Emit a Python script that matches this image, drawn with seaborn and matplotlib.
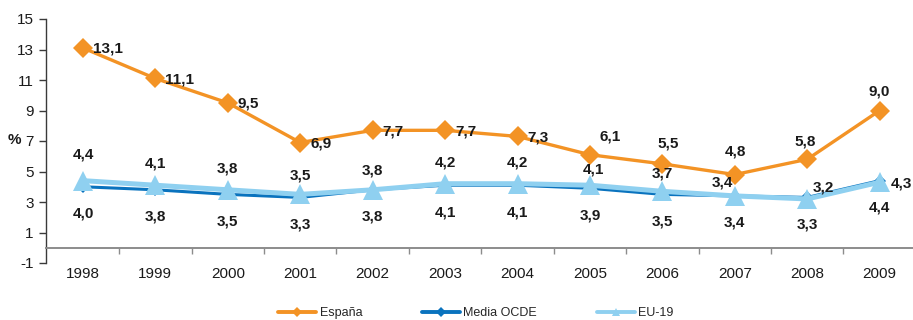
import matplotlib
matplotlib.use("Agg")
import matplotlib.pyplot as plt
import seaborn as sns
from matplotlib.lines import Line2D

# ---- data -------------------------------------------------------------
years = [1998, 1999, 2000, 2001, 2002, 2003, 2004, 2005, 2006, 2007, 2008, 2009]
espana = [13.1, 11.1, 9.5, 6.9, 7.7, 7.7, 7.3, 6.1, 5.5, 4.8, 5.8, 9.0]
media_ocde = [4.0, 3.8, 3.5, 3.3, 3.8, 4.1, 4.1, 3.9, 3.5, 3.4, 3.3, 4.4]
eu19 = [4.4, 4.1, 3.8, 3.5, 3.8, 4.2, 4.2, 4.1, 3.7, 3.4, 3.2, 4.3]
series_names = ["España", "Media OCDE", "EU-19"]
y_ticks = [-1, 1, 3, 5, 7, 9, 11, 13, 15]

# ---- label placement (pixel offsets from each point, horizontal align) ----
esp_offsets = [(10, 1, "left")] * 7 + [(20, -18, "center"), (6, -20, "center"),
                                       (1, -23, "center"), (-2, -18, "center"),
                                       (0, -19, "center")]
eu_offsets = [(0, -26, "center"), (0, -22, "center"), (0, -21, "center"),
              (0, -19, "center"), (0, -19, "center"), (0, -21, "center"),
              (0, -21, "center"), (3, -16, "center"), (0, -18, "center"),
              (-12, -13, "center"), (16, -11, "center"), (11, 1, "left")]
ocde_offsets = [(0, 27, "center")] * 12

ORANGE = "#F39325"
DARK_BLUE = "#0A73BE"
LIGHT_BLUE = "#8FD0F0"
TEXT = "#1a1a1a"

sns.set_theme(style="white")
plt.rcParams["font.family"] = ["Liberation Sans", "DejaVu Sans"]

fig = plt.figure(figsize=(9.13, 3.2), dpi=100)
ax = fig.add_axes([46 / 913, 57 / 320, 1 - 46 / 913, (263 - 19) / 320])

sns.lineplot(x=years, y=media_ocde, ax=ax, color=DARK_BLUE, linewidth=2.2,
             marker="D", markersize=6, markeredgewidth=0, zorder=3)
sns.lineplot(x=years, y=eu19, ax=ax, color=LIGHT_BLUE, linewidth=3.6,
             marker="^", markersize=14, markeredgewidth=0, zorder=4)
sns.lineplot(x=years, y=espana, ax=ax, color=ORANGE, linewidth=2.4,
             marker="D", markersize=10.5, markeredgewidth=0, zorder=5)


def fmt(v):
    return f"{v:.1f}".replace(".", ",")


for vals, offs in ((espana, esp_offsets), (eu19, eu_offsets), (media_ocde, ocde_offsets)):
    for x, v, (dx, dy, ha) in zip(years, vals, offs):
        ax.annotate(fmt(v), (x, v), xytext=(dx, -dy), textcoords="offset pixels",
                    ha=ha, va="center", fontsize=11, fontweight="bold",
                    color=TEXT, zorder=6)

# ---- axes --------------------------------------------------------------
ax.set_xlim(years[0] - 0.51, years[-1] + 0.46)
ax.set_ylim(-1, 15)
ax.set_yticks(y_ticks)
ax.set_yticklabels([str(t) for t in y_ticks], fontsize=11, color=TEXT)

ax.spines["top"].set_visible(False)
ax.spines["right"].set_visible(False)
ax.spines["left"].set_color("#3a3a3a")
ax.spines["left"].set_linewidth(1.0)
ax.spines["bottom"].set_position(("data", 0))
ax.spines["bottom"].set_color("#8c8c8c")
ax.spines["bottom"].set_linewidth(1.4)

ax.set_xticks(years)
ax.set_xticklabels([str(y) for y in years], fontsize=11, color=TEXT)
ax.set_xticks([y + 0.5 for y in years[:-1]], minor=True)
ax.tick_params(axis="x", which="major", length=0, pad=13.5)
ax.tick_params(axis="x", which="minor", length=4, width=1.0, color="#8c8c8c",
               direction="out", bottom=True)
ax.tick_params(axis="y", which="major", length=5, width=1.0, color="#3a3a3a",
               direction="out", left=True, pad=4)
ax.grid(False)
ax.set_xlabel("")
ax.set_ylabel("")

fig.text(14 / 913, 1 - 140 / 320, "%", fontsize=11, fontweight="bold",
         ha="center", va="center", color=TEXT)

handles = [
    Line2D([], [], color=ORANGE, lw=2.8, marker="D", markersize=5, markeredgewidth=0),
    Line2D([], [], color=DARK_BLUE, lw=2.8, marker="D", markersize=5, markeredgewidth=0),
    Line2D([], [], color=LIGHT_BLUE, lw=2.8, marker="^", markersize=6, markeredgewidth=0),
]
fig.legend(handles, series_names, loc="center", bbox_to_anchor=(476 / 913, 1 - 313 / 320),
           ncol=3, frameon=False, fontsize=9, handlelength=3.0, handletextpad=0.3,
           columnspacing=4.8, borderpad=0)

fig.savefig("out.png", dpi=100)
